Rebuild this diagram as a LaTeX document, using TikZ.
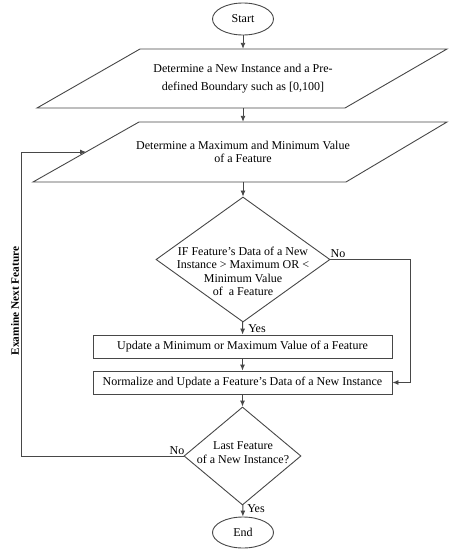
\documentclass[tikz,border=0pt]{standalone}
\usepackage{fontspec}
\setmainfont{Liberation Serif}
\usetikzlibrary{shapes.geometric,arrows.meta,calc}
\begin{document}
\begin{tikzpicture}[x=1pt,y=-1pt,
  line/.style={draw=black!72, line width=0.9pt},
  arr/.style={line, -{Latex[length=6pt,width=5pt]}},
  txt/.style={font=\fontsize{12}{13.4}\selectfont, align=center, inner sep=0pt},
  term/.style={ellipse, line, minimum width=61pt, minimum height=32pt, inner sep=0pt, font=\fontsize{12}{13.4}\selectfont},
  ptext/.style={txt, minimum width=200pt},
  decision/.style={diamond, line, inner sep=0pt},
  proc/.style={rectangle, line, minimum width=299pt, minimum height=23pt, inner sep=0pt, font=\fontsize{12}{13.4}\selectfont},
  lab/.style={font=\fontsize{12}{13.4}\selectfont, inner sep=0pt}
]
\useasboundingbox (0,0) rectangle (448,549);
% Start
\node[term] (s) at (243,19) {Start};
% Parallelogram 1
\node[ptext, font=\fontsize{12}{18}\selectfont, minimum height=59pt] (p1) at (243,78.5) {Determine a New Instance and a Pre-\\defined Boundary such as [0,100]};
\coordinate (p1bl) at (37,108);
\coordinate (p1br) at (345,108);
\coordinate (p1tr) at (447,49);
\coordinate (p1tl) at (140,49);
\draw[line] (p1bl) -- (p1br) -- (p1tr) -- (p1tl) -- cycle;
% Parallelogram 2
\node[ptext, minimum height=60pt] (p2) at (243,152) {Determine a Maximum and Minimum Value\\of a Feature};
\coordinate (p2bl) at (33,182);
\coordinate (p2br) at (346,182);
\coordinate (p2tr) at (447,122);
\coordinate (p2tl) at (139,122);
\draw[line] (p2bl) -- (p2br) -- (p2tr) -- (p2tl) -- cycle;
\coordinate (p2in) at ($(p2bl)!0.5!(p2tl)$);
% Decision 1
\node[decision, minimum width=174pt, minimum height=125pt] (d1) at (243,259.5) {};
\node[txt] (d1t) at (243,271.5) {IF Feature's Data of a New\\Instance > Maximum OR <\\Minimum Value\\of\ \ a Feature};
% Process boxes
\node[proc] (u) at (242.5,346.5) {Update a Minimum or Maximum Value of a Feature};
\node[proc] (n) at (242.5,382.5) {Normalize and Update a Feature's Data of a New Instance};
% Decision 2
\node[decision, minimum width=117pt, minimum height=98pt] (d2) at (242.5,456) {};
\node[txt] (d2t) at (243,452.5) {Last Feature\\of a New Instance?};
% End
\node[term, minimum height=31pt] (e) at (243,532.5) {End};
% Main arrows
\draw[arr] (s) -- (p1);
\draw[arr] (p1) -- (p2);
\draw[arr] (p2) -- (d1);
\draw[arr] (d1) -- (u);
\draw[arr] (u) -- (n);
\draw[arr] (n) -- (d2);
\draw[arr] (d2) -- (e);
% No branch of decision 1
\coordinate (r1) at (410,259.5);
\draw[arr] (d1.east) -- (r1) |- (n.east);
% Loop back
\coordinate (l1) at (21,456);
\draw[arr] (d2.west) -- (l1) |- (p2in);
% Labels
\node[lab] (no1) at (338,254) {No};
\node[lab] (yes1) at (257,329) {Yes};
\node[lab] (no2) at (177,450.5) {No};
\node[lab] (yes2) at (256,509) {Yes};
\node[lab, font=\fontsize{11.3}{13.4}\selectfont\bfseries, rotate=90] (ex) at (15,301) {Examine Next Feature};
\end{tikzpicture}
\end{document}
